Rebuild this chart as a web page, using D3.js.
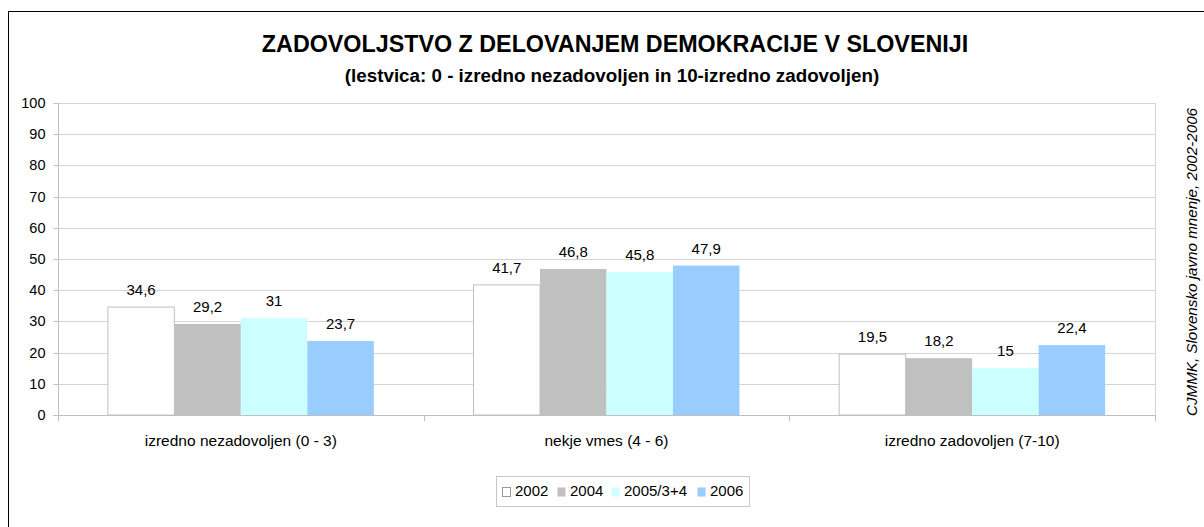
<!DOCTYPE html>
<html lang="sl">
<head>
<meta charset="UTF-8">
<title>Zadovoljstvo z delovanjem demokracije</title>
<script src="https://d3js.org/d3.v7.min.js"></script>
<style>
  body { margin: 0; background: #fff; }
  svg { display: block; font-family: "Liberation Sans", Arial, sans-serif; }
</style>
</head>
<body>
<svg id="chart"></svg>
<script>
const categories = ["izredno nezadovoljen (0 - 3)", "nekje vmes (4 - 6)", "izredno zadovoljen (7-10)"];
const series = ["2002", "2004", "2005/3+4", "2006"];
const v2002 = [34.6, 41.7, 19.5];
const v2004 = [29.2, 46.8, 18.2];
const v2005 = [31, 45.8, 15];
const v2006 = [23.7, 47.9, 22.4];
const yTicks = [0, 10, 20, 30, 40, 50, 60, 70, 80, 90, 100];

const colors = { "2002": "#ffffff", "2004": "#c0c0c0", "2005/3+4": "#ccffff", "2006": "#99ccff" };
const values = { "2002": v2002, "2004": v2004, "2005/3+4": v2005, "2006": v2006 };

const width = 1204, height = 527;
const plot = { left: 58, right: 1155, top: 103, bottom: 415 };

const svg = d3.select("#chart").attr("width", width).attr("height", height);

// outer frame (right and bottom edges fall outside the picture)
svg.append("rect")
  .attr("x", 8.5).attr("y", 11.5)
  .attr("width", width + 10).attr("height", height + 10)
  .attr("fill", "none").attr("stroke", "#000").attr("stroke-width", 1);

const x0 = d3.scaleBand().domain(categories).range([plot.left, plot.right]);
const x1 = d3.scaleBand().domain(series).range([0, x0.bandwidth()]).paddingOuter(0.75);
const y = d3.scaleLinear().domain([0, 100]).range([plot.bottom, plot.top]);

// gridlines
svg.append("g")
  .selectAll("line")
  .data(yTicks.slice(1))
  .join("line")
  .attr("x1", plot.left).attr("x2", plot.right)
  .attr("y1", d => Math.round(y(d)) + 0.5).attr("y2", d => Math.round(y(d)) + 0.5)
  .attr("stroke", "#d4d4d4");

// right edge of plot
svg.append("line")
  .attr("x1", plot.right + 0.5).attr("x2", plot.right + 0.5)
  .attr("y1", plot.top).attr("y2", plot.bottom)
  .attr("stroke", "#d4d4d4");

// y axis
const yAxis = svg.append("g")
  .attr("transform", `translate(${plot.left + 0.5},0)`)
  .call(d3.axisLeft(y).tickValues(yTicks).tickSize(5).tickPadding(8));
yAxis.selectAll("line").attr("stroke", "#c0c0c0");
yAxis.select(".domain").attr("stroke", "#c0c0c0").attr("d", `M-5,${plot.bottom + 0.5}H0V${plot.top}`);
yAxis.selectAll("text").attr("font-size", 14.5).attr("font-family", "Liberation Sans, Arial, sans-serif").attr("fill", "#000");
yAxis.selectAll(".tick").attr("transform", d => `translate(0,${Math.round(y(d)) + 0.5})`);

// bars
const groups = svg.append("g")
  .selectAll("g")
  .data(categories)
  .join("g")
  .attr("transform", d => `translate(${x0(d)},0)`);

groups.selectAll("rect")
  .data((c, i) => series.map(s => ({ s, v: values[s][i] })))
  .join("rect")
  .attr("x", d => x1(d.s))
  .attr("y", d => y(d.v))
  .attr("width", x1.bandwidth())
  .attr("height", d => plot.bottom - y(d.v))
  .attr("fill", d => colors[d.s])
  .attr("stroke", d => d.s === "2002" ? "#c0c0c0" : "none");

groups.selectAll("text")
  .data((c, i) => series.map(s => ({ s, v: values[s][i] })))
  .join("text")
  .attr("x", d => x1(d.s) + x1.bandwidth() / 2)
  .attr("y", d => y(d.v) - 12)
  .attr("text-anchor", "middle")
  .attr("font-size", 15)
  .text(d => String(d.v).replace(".", ","));

// x axis
svg.append("line")
  .attr("x1", plot.left).attr("x2", plot.right)
  .attr("y1", plot.bottom + 0.5).attr("y2", plot.bottom + 0.5)
  .attr("stroke", "#c0c0c0");
svg.append("g")
  .selectAll("line")
  .data(categories.concat(["end"]))
  .join("line")
  .attr("x1", (d, i) => Math.round(i < categories.length ? x0(d) : plot.right) + 0.5)
  .attr("x2", (d, i) => Math.round(i < categories.length ? x0(d) : plot.right) + 0.5)
  .attr("y1", plot.bottom).attr("y2", plot.bottom + 6)
  .attr("stroke", "#c0c0c0");
svg.append("g")
  .selectAll("text")
  .data(categories)
  .join("text")
  .attr("x", d => x0(d) + x0.bandwidth() / 2)
  .attr("y", 446)
  .attr("text-anchor", "middle")
  .attr("font-size", 15.5)
  .text(d => d);

// titles
svg.append("text")
  .attr("x", 615).attr("y", 52)
  .attr("text-anchor", "middle")
  .attr("font-size", 23.3).attr("font-weight", "bold")
  .text("ZADOVOLJSTVO Z DELOVANJEM DEMOKRACIJE V SLOVENIJI");
svg.append("text")
  .attr("x", 612).attr("y", 82)
  .attr("text-anchor", "middle")
  .attr("font-size", 18.8).attr("font-weight", "bold")
  .text("(lestvica: 0 - izredno nezadovoljen in 10-izredno zadovoljen)");

// source, rotated
svg.append("text")
  .attr("transform", `translate(1197,${(plot.top + plot.bottom) / 2 + 3}) rotate(-90)`)
  .attr("text-anchor", "middle")
  .attr("font-size", 15.2).attr("font-style", "italic")
  .text("CJMMK, Slovensko javno mnenje, 2002-2006");

// legend
const legend = svg.append("g").attr("transform", "translate(496,476)");
legend.append("rect")
  .attr("x", 0.5).attr("y", 0.5).attr("width", 253).attr("height", 30)
  .attr("fill", "#fff").attr("stroke", "#c8c8c8");
const itemX = [6, 61, 115, 201];
const item = legend.selectAll("g.item")
  .data(series)
  .join("g")
  .attr("class", "item")
  .attr("transform", (d, i) => `translate(${itemX[i]},0)`);
item.append("rect")
  .attr("x", 0.5).attr("y", 11.5).attr("width", 8).attr("height", 9)
  .attr("fill", d => colors[d])
  .attr("stroke", d => d === "2002" ? "#999" : "none");
item.append("text")
  .attr("x", 13).attr("y", 20)
  .attr("font-size", 15)
  .text(d => d);
</script>
</body>
</html>
